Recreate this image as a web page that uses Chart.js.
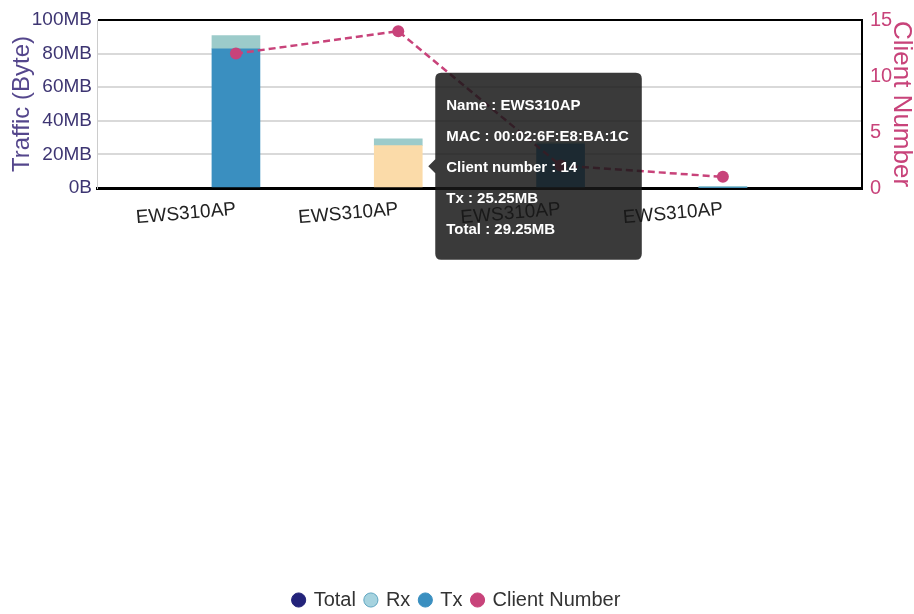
<!DOCTYPE html>
<html>
<head>
<meta charset="utf-8">
<script src="https://cdn.jsdelivr.net/npm/chart.js@4.4.1/dist/chart.umd.min.js"></script>
<style>
  html, body { margin: 0; padding: 0; background: #fff; }
  #wrap { width: 914px; height: 614px; }
</style>
</head>
<body>
<div id="wrap"><canvas id="traffic-chart"></canvas></div>
<script>
// data
const apNames = ['EWS310AP', 'EWS310AP', 'EWS310AP', 'EWS310AP'];
const apMacs = ['', '00:02:6F:E8:BA:1C', '', ''];
const txMB = [82.8, 25.25, 26.2, 0.4];
const rxMB = [8.0, 4.0, 0.8, 0.4];
const clientCount = [12, 14, 2, 1];
const trafficTicks = [0, 20, 40, 60, 80, 100];
const clientTicks = [0, 5, 10, 15];
const legendNames = ['Total', 'Rx', 'Tx', 'Client Number'];
const hoverIndex = 1;

const SANS = '"Liberation Sans", Arial, sans-serif';
const TX = '#3a8fc0';
const TX_HOVER = '#fbdba9';
const RX = '#9ccbca';
const CLIENT = '#c8437a';
const legendFill = ['#23237a', '#a6d3df', TX, CLIENT];
const legendStroke = ['#23237a', '#5fa5c0', TX, CLIENT];

const fmtMB = (v) => v.toFixed(2) + 'MB';

// tooltip sits beside the hovered bar, caret at the bar's middle
Chart.Tooltip.positioners.barSide = function (items) {
  if (!items.length) return false;
  const el = items[0].element;
  return { x: el.x + el.width / 2, y: (el.y + el.base) / 2 };
};

const el = document.getElementById('traffic-chart');
const chart = new Chart(el, {
  type: 'bar',
  data: {
    datasets: [
      {
        label: 'Tx',
        data: txMB.map((v, i) => ({ x: i + 1, y: v })),
        backgroundColor: TX,
        hoverBackgroundColor: TX_HOVER,
        barThickness: 48,
        yAxisID: 'y',
        order: 1,
      },
      {
        label: 'Rx',
        data: rxMB.map((v, i) => ({ x: i + 1, y: v })),
        backgroundColor: RX,
        hoverBackgroundColor: RX,
        barThickness: 48,
        yAxisID: 'y',
        order: 1,
      },
      {
        type: 'line',
        label: 'Client Number',
        data: clientCount.map((v, i) => ({ x: i + 1, y: v })),
        yAxisID: 'y1',
        borderColor: CLIENT,
        borderWidth: 2.5,
        borderDash: [7, 4],
        tension: 0,
        pointRadius: 6,
        pointBorderWidth: 0,
        pointBackgroundColor: CLIENT,
        order: 0,
      },
    ],
  },
  options: {
    responsive: true,
    maintainAspectRatio: false,
    animation: false,
    events: [],
    layout: { padding: { top: 19, left: 0, right: 0, bottom: -6 } },
    interaction: { mode: 'nearest', intersect: true },
    scales: {
      x: {
        type: 'linear',
        offset: false,
        min: 0.144,
        max: 4.857,
        stacked: true,
        afterBuildTicks: (a) => { a.ticks = apNames.map((_, i) => ({ value: i + 1 })); },
        afterFit: (s) => { s.height = 392; },
        grid: { display: false },
        border: { color: '#000', width: 3 },
        ticks: {
          callback: (v) => apNames[v - 1],
          autoSkip: false,
          minRotation: 5,
          maxRotation: 5,
          padding: 2,
          color: '#222',
          font: { family: SANS, size: 19 },
        },
      },
      y: {
        position: 'left',
        min: 0,
        max: 100,
        stacked: true,
        afterBuildTicks: (a) => { a.ticks = trafficTicks.map((v) => ({ value: v })); },
        afterFit: (s) => { s.width = 97; },
        grid: {
          color: (c) => (c.tick && c.tick.value === 100 ? '#000' : '#d9d9d9'),
          lineWidth: 2,
          drawTicks: false,
        },
        border: { color: '#cccccc', width: 1 },
        ticks: {
          padding: 5,
          color: '#3d3572',
          font: { family: SANS, size: 19 },
          callback: (v) => (v === 0 ? '0B' : v + 'MB'),
        },
        title: {
          display: true,
          text: 'Traffic (Byte)',
          color: '#54468c',
          font: { family: SANS, size: 24, lineHeight: 1 },
          padding: { top: 10, bottom: 0 },
        },
      },
      y1: {
        position: 'right',
        min: 0,
        max: 15,
        afterBuildTicks: (a) => { a.ticks = clientTicks.map((v) => ({ value: v })); },
        afterFit: (s) => { s.width = 52; },
        grid: { drawOnChartArea: false, drawTicks: false },
        border: { color: '#000', width: 2 },
        ticks: {
          padding: 8,
          color: CLIENT,
          font: { family: SANS, size: 20 },
        },
        title: {
          display: true,
          text: 'Client Number',
          color: CLIENT,
          font: { family: SANS, size: 26, lineHeight: 1 },
          padding: { top: 0, bottom: 0 },
        },
      },
    },
    plugins: {
      legend: {
        position: 'bottom',
        onClick: null,
        labels: {
          usePointStyle: true,
          boxWidth: 10,
          boxHeight: 10,
          padding: 10,
          color: '#333',
          font: { family: SANS, size: 20 },
          generateLabels: () => legendNames.map((name, i) => ({
            text: name,
            fillStyle: legendFill[i],
            strokeStyle: legendStroke[i],
            lineWidth: 1,
            pointStyle: 'circle',
            fontColor: '#333',
            hidden: false,
            datasetIndex: i,
          })),
        },
      },
      tooltip: {
        position: 'barSide',
        xAlign: 'left',
        yAlign: 'center',
        caretSize: 7,
        caretPadding: 6,
        cornerRadius: 6,
        backgroundColor: 'rgba(24,24,24,0.85)',
        displayColors: false,
        padding: { top: 18, bottom: 14, left: 11, right: 13 },
        bodySpacing: 0,
        bodyColor: '#fff',
        bodyFont: { family: SANS, size: 15, weight: 'bold', lineHeight: '31px' },
        callbacks: {
          title: () => [],
          label: (item) => {
            const i = item.dataIndex;
            return [
              'Name : ' + apNames[i],
              'MAC : ' + apMacs[i],
              'Client number : ' + clientCount[i],
              'Tx : ' + fmtMB(txMB[i]),
              'Total : ' + fmtMB(txMB[i] + rxMB[i]),
            ];
          },
        },
      },
    },
  },
});

chart.setActiveElements([{ datasetIndex: 0, index: hoverIndex }]);
chart.tooltip.setActiveElements([{ datasetIndex: 0, index: hoverIndex }], { x: 0, y: 0 });
chart.update();
</script>
</body>
</html>
